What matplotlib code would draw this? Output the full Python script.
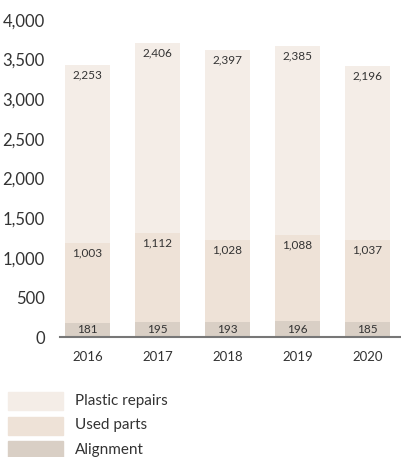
import matplotlib
matplotlib.use("Agg")
import matplotlib.pyplot as plt
from matplotlib.patches import Rectangle
from matplotlib.transforms import offset_copy

years = ["2016", "2017", "2018", "2019", "2020"]
alignment = [181, 195, 193, 196, 185]
used_parts = [1003, 1112, 1028, 1088, 1037]
plastic_repairs = [2253, 2406, 2397, 2385, 2196]
yticks = [0, 500, 1000, 1500, 2000, 2500, 3000, 3500, 4000]
series_names = ["Plastic repairs", "Used parts", "Alignment"]

c_plastic = "#F4EDE7"
c_used = "#EEE2D7"
c_align = "#D9CFC5"
txt = "#333333"

plt.rcParams["font.family"] = ["Lato", "DejaVu Sans"]

W, H = 401, 457
fig = plt.figure(figsize=(W/100, H/100), dpi=100)
ax = fig.add_axes([60/W, (H-337)/H, 341/W, 317/H])

x = list(range(len(years)))
w = 0.64
ax.bar(x, alignment, w, color=c_align)
ax.bar(x, used_parts, w, bottom=alignment, color=c_used)
bottom3 = [a + u for a, u in zip(alignment, used_parts)]
ax.bar(x, plastic_repairs, w, bottom=bottom3, color=c_plastic)

below = offset_copy(ax.transData, fig=fig, x=0, y=-10, units="dots")
for i in x:
    ax.text(i, alignment[i] / 2, f"{alignment[i]:,}", ha="center", va="center",
            fontsize=8.5, color=txt)
    ax.text(i, bottom3[i], f"{used_parts[i]:,}", ha="center", va="center",
            fontsize=8.5, color=txt, transform=below)
    top = bottom3[i] + plastic_repairs[i]
    ax.text(i, top, f"{plastic_repairs[i]:,}", ha="center", va="center",
            fontsize=8.5, color=txt, transform=below)

ax.set_xlim(-27.5/70, (401-87.5)/70)
ax.set_ylim(0, 4000)
ax.set_yticks(yticks)
ax.set_yticklabels([f"{v:,}" for v in yticks])
ax.set_xticks(x)
ax.set_xticklabels(years)
for s in ["top", "right", "left"]:
    ax.spines[s].set_visible(False)
ax.spines["bottom"].set_color("#777777")
ax.spines["bottom"].set_linewidth(1.5)
ax.tick_params(axis="y", length=0, pad=11, labelsize=12, labelcolor=txt)
ax.tick_params(axis="x", length=0, pad=10, labelsize=9.5, labelcolor=txt)

# legend drawn in figure pixel coordinates
leg_colors = [c_plastic, c_used, c_align]
for k, (name, col) in enumerate(zip(series_names, leg_colors)):
    top_px = 392 + k * 24.5
    fig.patches.append(Rectangle((8/W, (H - top_px - 18)/H), 55/W, 18/H,
                                 transform=fig.transFigure, color=col))
    fig.text(75/W, (H - top_px - 9)/H, name, ha="left", va="center",
             fontsize=11, color=txt)

fig.savefig("out.png", dpi=100)
